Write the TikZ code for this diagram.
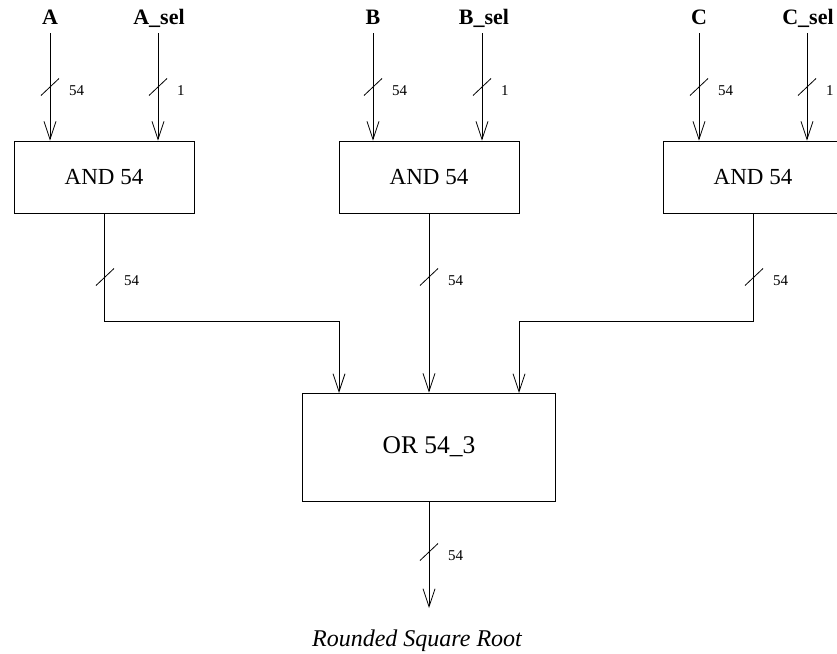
\documentclass[tikz,border=0pt]{standalone}
\usepackage{fontspec}
\setmainfont{Liberation Serif}
\usetikzlibrary{arrows.meta}
\tikzset{
  blk/.style={draw, line width=0.8pt, minimum width=180pt, minimum height=72pt, inner sep=0pt, font=\fontsize{23}{25}\selectfont},
  orblk/.style={draw, line width=0.8pt, minimum width=253pt, minimum height=108pt, inner sep=0pt, font=\fontsize{25.5}{28}\selectfont},
  inlbl/.style={font=\fontsize{22}{24}\selectfont\bfseries, inner sep=0pt, anchor=base},
  buslbl/.style={font=\fontsize{15}{17}\selectfont, inner sep=0pt, anchor=west},
  wire/.style={line width=0.8pt},
  arr/.style={wire, -{Straight Barb[length=18pt,width=12pt,line width=0.8pt]}},
}
\newcommand\bmark[4]{% x, y, label, name
  \draw[wire] (#1-9,#2+8.5) -- (#1+9,#2-8.5);
  \node[buslbl] (#4) at (#1+19,#2+4) {#3};
}
\begin{document}
\begin{tikzpicture}[x=1pt,y=-1pt]
\useasboundingbox (0,0) rectangle (837,653);
% boxes
\node[blk] (and1) at (104,177) {AND 54};
\node[blk] (and2) at (429,177) {AND 54};
\node[blk] (and3) at (753,177) {AND 54};
\node[orblk] (or) at (429,447) {OR 54\_3};
% input labels
\node[inlbl] (A) at (50,24) {A};
\node[inlbl] (Asel) at (159,24) {A\_sel};
\node[inlbl] (B) at (373,24) {B};
\node[inlbl] (Bsel) at (484,24) {B\_sel};
\node[inlbl] (C) at (699,24) {C};
\node[inlbl] (Csel) at (808,24) {C\_sel};
\coordinate (a0) at (50,33);
\coordinate (as0) at (158,33);
\coordinate (b0) at (373,33);
\coordinate (bs0) at (482,33);
\coordinate (c0) at (699,33);
\coordinate (cs0) at (807,33);
% inputs
\draw[arr] (a0) -- (a0 |- and1.north);
\draw[arr] (as0) -- (as0 |- and1.north);
\draw[arr] (b0) -- (b0 |- and2.north);
\draw[arr] (bs0) -- (bs0 |- and2.north);
\draw[arr] (c0) -- (c0 |- and3.north);
\draw[arr] (cs0) -- (cs0 |- and3.north);
\bmark{50}{87}{54}{la}
\bmark{158}{87}{1}{las}
\bmark{373}{87}{54}{lb}
\bmark{482}{87}{1}{lbs}
\bmark{699}{87}{54}{lc}
\bmark{807}{87}{1}{lcs}
% AND to OR
\coordinate (o1) at (339,393);
\coordinate (o3) at (519,393);
\draw[arr] (and1.south) |- (339,321) -- (o1);
\draw[arr] (and2.south) -- (and2.south |- or.north);
\draw[arr] (and3.south) |- (519,321) -- (o3);
\bmark{105}{277}{54}{lo1}
\bmark{429}{277}{54}{lo2}
\bmark{754}{277}{54}{lo3}
% output
\coordinate (out) at (429,608);
\draw[arr] (or.south) -- (out);
\bmark{429}{552}{54}{lout}
\node[font=\fontsize{24}{26}\selectfont\itshape, inner sep=0pt, anchor=base] (title) at (417,646) {Rounded Square Root};
\end{tikzpicture}
\end{document}
